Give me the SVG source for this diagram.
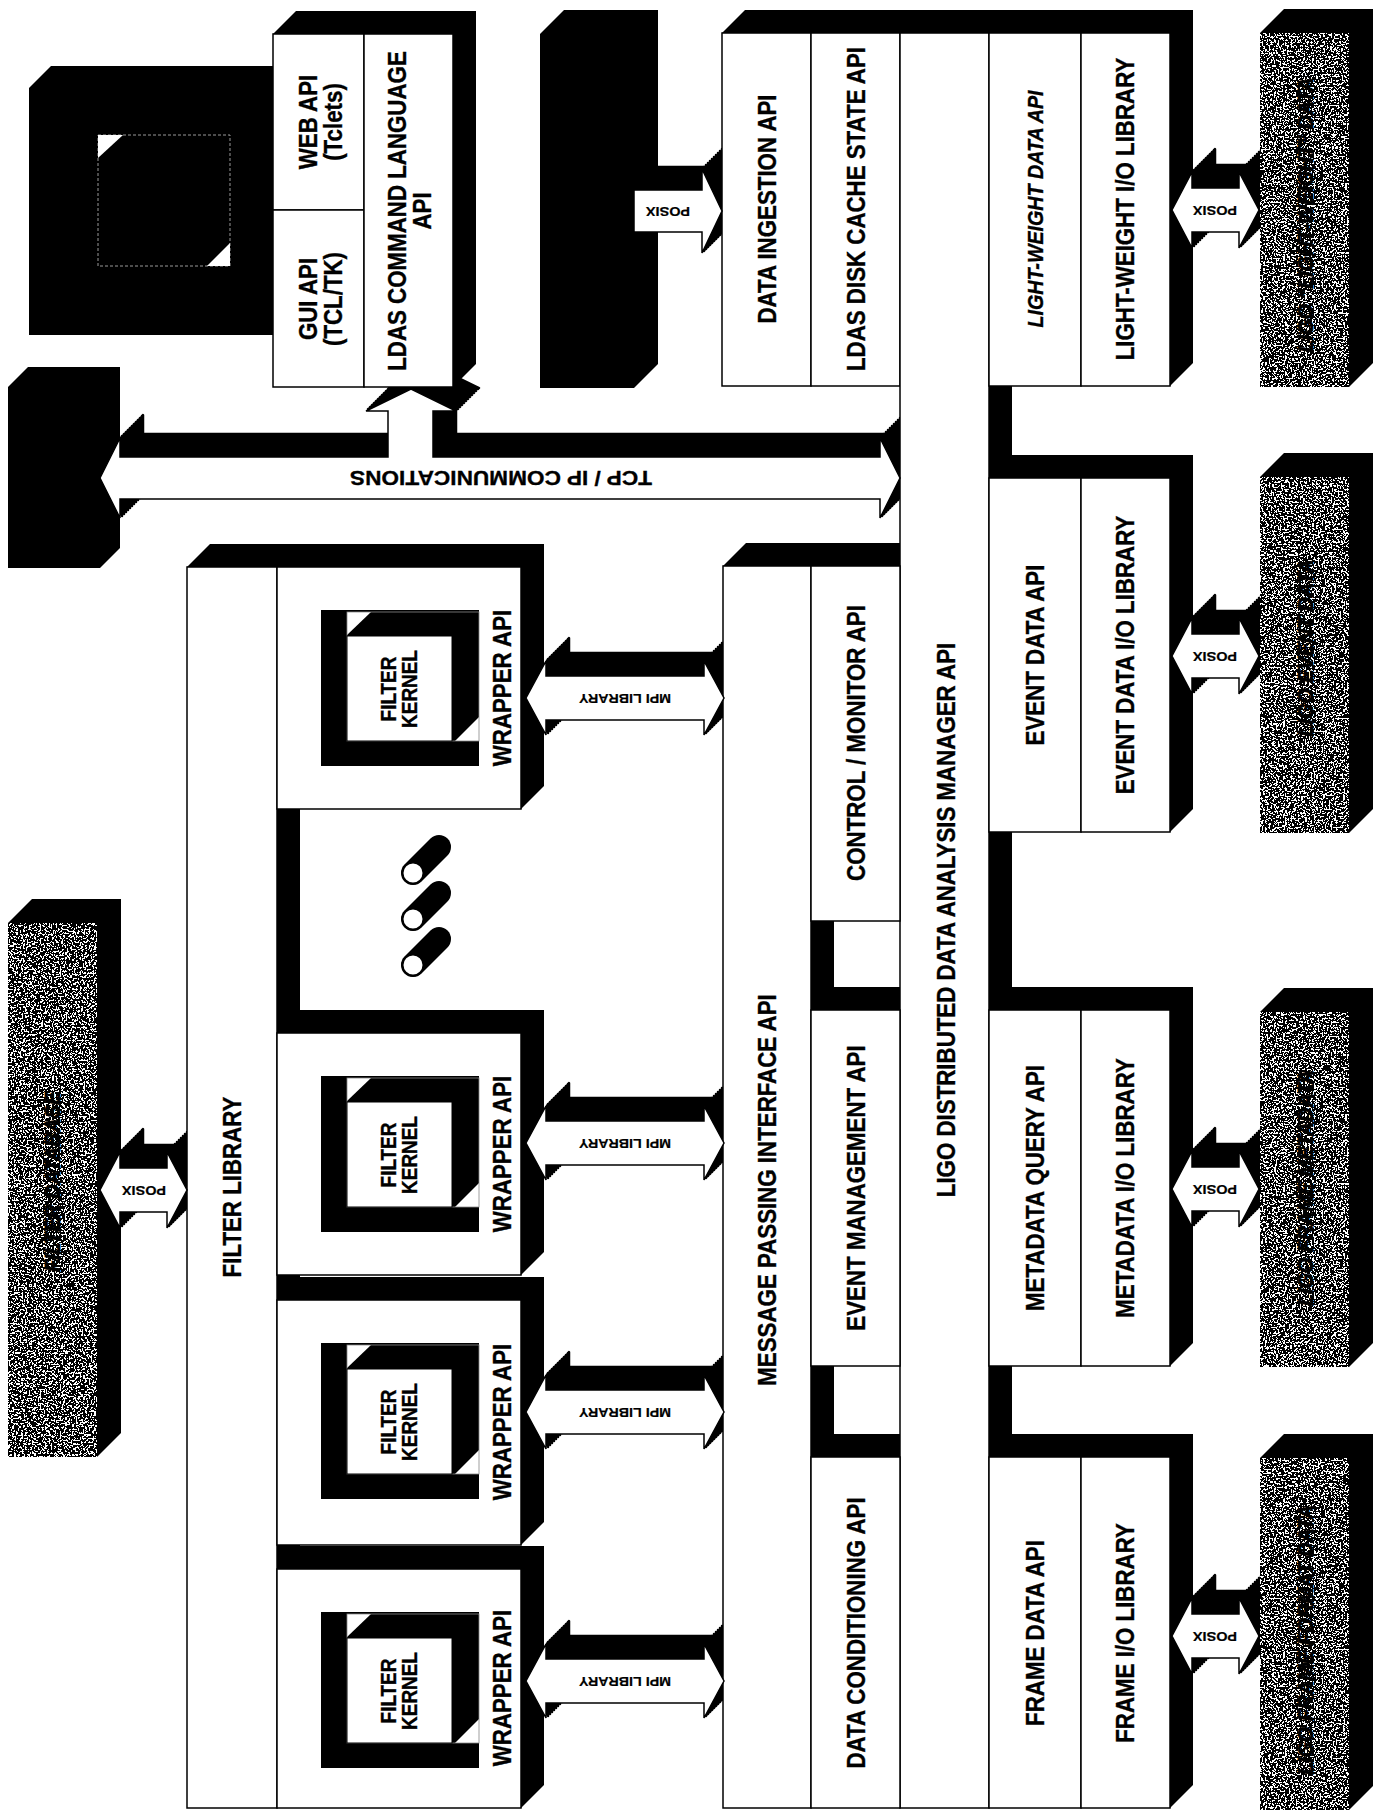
<svg xmlns="http://www.w3.org/2000/svg" xmlns:xlink="http://www.w3.org/1999/xlink" width="1377" height="1813" viewBox="0 0 1377 1813">
<style>
.ext{fill:#000}
.face{fill:#fff;stroke:#000;stroke-width:1.5}
.gray{fill:#fff;filter:url(#grain)}
.arw{fill:#fff;stroke:#000;stroke-width:1.5;stroke-linejoin:miter}
.sh{fill:#000;stroke:#000;stroke-width:2.5;stroke-linejoin:round}
.t{font-family:"Liberation Sans",Arial,Helvetica,sans-serif;font-weight:700;font-size:25.5px;fill:#000;stroke:#000;stroke-width:0.35;text-anchor:middle}
.k{font-size:21.5px}
.i{font-style:italic;font-size:22.5px}
.g{font-style:italic;font-size:22px;stroke:#000;stroke-width:0.8}
.s{font-size:12.5px;stroke-width:0.2}
.cyl{stroke:#000;stroke-width:24;stroke-linecap:round}
.cap{fill:#fff;stroke:#000;stroke-width:2}
</style>
<defs>
<filter id="grain" x="0" y="0" width="1" height="1" color-interpolation-filters="sRGB">
<feTurbulence type="fractalNoise" baseFrequency="0.55" numOctaves="2" seed="5"/>
<feColorMatrix type="matrix" values="0 0 0 0 0  0 0 0 0 0  0 0 0 0 0  1 0 0 0 0"/>
<feComponentTransfer><feFuncA type="discrete" tableValues="0 0 0 0 0 0 0 0 0 1 1 1 1 1 1 1 1 1 1 1"/></feComponentTransfer>
<feComposite in2="SourceGraphic" operator="in" result="sp"/>
<feMerge><feMergeNode in="SourceGraphic"/><feMergeNode in="sp"/></feMerge>
</filter>
<g id="kern">
<rect width="158" height="156" fill="#000"/>
<polygon points="26,2 50,2 26,25" fill="#fff"/>
<polygon points="158,107 158,131 134,131" fill="#fff"/>
<rect x="26" y="2" width="132" height="129" fill="none" stroke="#888" stroke-width="0.8"/>
<rect x="26" y="26" width="105" height="105" fill="#fff" stroke="#000" stroke-width="1"/>
</g>
</defs>

<rect width="1377" height="1813" fill="#fff"/>

<g id="extrusions" class="ext">
<polygon points="29,88 51,66 273,66 273,335 29,335"/>
<polygon points="273,34 296,11 476,11 476,364 453,387 273,387"/>
<polygon points="540,34 564,10 658,10 658,364 634,388 540,388"/>
<polygon points="8,387 28,367 120,367 120,548 100,568 8,568"/>
<polygon points="722,33 745,10 1193,10 1193,363 1170,386 722,386"/>
<polygon points="900,33 923,10 1012,10 1012,1785 989,1808 900,1808"/>
<polygon points="989,478 1012,455 1193,455 1193,809 1170,832 989,832"/>
<polygon points="989,1010 1012,987 1193,987 1193,1343 1170,1366 989,1366"/>
<polygon points="989,1457 1012,1434 1193,1434 1193,1785 1170,1808 989,1808"/>
<polygon points="723,566 746,543 834,543 834,1785 811,1808 723,1808"/>
<polygon points="811,566 834,543 923,543 923,898 900,921 811,921"/>
<polygon points="811,1010 834,987 923,987 923,1343 900,1366 811,1366"/>
<polygon points="811,1457 834,1434 923,1434 923,1785 900,1808 811,1808"/>
<polygon points="187,567 210,544 300,544 300,1785 277,1808 187,1808"/>
<polygon points="277,567 300,544 544,544 544,786 521,809 277,809"/>
<polygon points="277,1033 300,1010 544,1010 544,1252 521,1275 277,1275"/>
<polygon points="277,1300 300,1277 544,1277 544,1522 521,1545 277,1545"/>
<polygon points="277,1569 300,1546 544,1546 544,1785 521,1808 277,1808"/>
<polygon points="8,923 32,899 121,899 121,1433 97,1457 8,1457"/>
<polygon points="1260,33 1284,9 1373,9 1373,363 1349,387 1260,387"/>
<polygon points="1260,477 1284,453 1373,453 1373,809 1349,833 1260,833"/>
<polygon points="1260,1012 1284,988 1373,988 1373,1343 1349,1367 1260,1367"/>
<polygon points="1260,1458 1284,1434 1373,1434 1373,1786 1349,1810 1260,1810"/>
</g>

<g id="arrow-shadows" class="sh">
<use href="#arrows" transform="translate(2,-2)"/>
<use href="#arrows" transform="translate(4,-4)"/>
<use href="#arrows" transform="translate(6,-6)"/>
<use href="#arrows" transform="translate(8,-8)"/>
<use href="#arrows" transform="translate(10,-10)"/>
<use href="#arrows" transform="translate(12,-12)"/>
<use href="#arrows" transform="translate(14,-14)"/>
<use href="#arrows" transform="translate(16,-16)"/>
<use href="#arrows" transform="translate(18,-18)"/>
<use href="#arrows" transform="translate(20,-20)"/>
<use href="#arrows" transform="translate(22,-22)"/>
<use href="#arrows" transform="translate(23,-23)"/>
</g>

<g id="node-workstation">
<rect x="98" y="135" width="132" height="131" fill="#000" stroke="#999" stroke-width="1" stroke-dasharray="3 2"/>
<polygon points="98,135 123,135 98,158" fill="#fff"/>
<polygon points="230,243 230,266 207,266" fill="#fff"/>
</g>

<g id="node-web-api">
<rect class="face" x="273" y="34" width="91" height="176"/>
<text class="t" transform="translate(320.5,122) rotate(-90) scale(0.875,1)"><tspan x="0" y="-3.5">WEB API</tspan><tspan x="0" y="21.5">(Tclets)</tspan></text>
</g>
<g id="node-gui-api">
<rect class="face" x="273" y="210" width="91" height="177"/>
<text class="t" transform="translate(320.5,299) rotate(-90) scale(0.875,1)"><tspan x="0" y="-3.5">GUI API</tspan><tspan x="0" y="21.5">(TCL/TK)</tspan></text>
</g>
<g id="node-ldas-cmd">
<rect class="face" x="364" y="34" width="89" height="353"/>
<text class="t" transform="translate(409.5,211) rotate(-90) scale(0.875,1)"><tspan x="0" y="-3.5">LDAS COMMAND LANGUAGE</tspan><tspan x="0" y="21.5">API</tspan></text>
</g>

<g id="node-data-ingestion">
<rect class="face" x="722" y="33" width="89" height="353"/>
<text class="t" transform="translate(766.5,209) rotate(-90) scale(0.875,1)" y="9">DATA INGESTION API</text>
</g>
<g id="node-disk-cache">
<rect class="face" x="811" y="33" width="89" height="353"/>
<text class="t" transform="translate(855.5,209) rotate(-90) scale(0.875,1)" y="9">LDAS DISK CACHE STATE API</text>
</g>
<g id="node-lddam">
<rect class="face" x="900" y="33" width="89" height="1775"/>
<text class="t" transform="translate(946,920) rotate(-90) scale(0.875,1)" y="9">LIGO DISTRIBUTED DATA ANALYSIS MANAGER API</text>
</g>
<g id="node-lw-data-api">
<rect class="face" x="989" y="33" width="92" height="353"/>
<text class="t i" transform="translate(1035,209) rotate(-90) scale(0.875,1)" y="8">LIGHT-WEIGHT DATA API</text>
</g>
<g id="node-lw-io">
<rect class="face" x="1081" y="33" width="89" height="353"/>
<text class="t" transform="translate(1125,209) rotate(-90) scale(0.875,1)" y="9">LIGHT-WEIGHT I/O LIBRARY</text>
</g>
<g id="node-event-data-api">
<rect class="face" x="989" y="478" width="92" height="354"/>
<text class="t" transform="translate(1035,655) rotate(-90) scale(0.875,1)" y="9">EVENT DATA API</text>
</g>
<g id="node-event-io">
<rect class="face" x="1081" y="478" width="89" height="354"/>
<text class="t" transform="translate(1125,655) rotate(-90) scale(0.875,1)" y="9">EVENT DATA I/O LIBRARY</text>
</g>
<g id="node-metadata-api">
<rect class="face" x="989" y="1010" width="92" height="356"/>
<text class="t" transform="translate(1035,1188) rotate(-90) scale(0.875,1)" y="9">METADATA QUERY API</text>
</g>
<g id="node-metadata-io">
<rect class="face" x="1081" y="1010" width="89" height="356"/>
<text class="t" transform="translate(1125,1188) rotate(-90) scale(0.875,1)" y="9">METADATA I/O LIBRARY</text>
</g>
<g id="node-frame-api">
<rect class="face" x="989" y="1457" width="92" height="351"/>
<text class="t" transform="translate(1035,1633) rotate(-90) scale(0.875,1)" y="9">FRAME DATA API</text>
</g>
<g id="node-frame-io">
<rect class="face" x="1081" y="1457" width="89" height="351"/>
<text class="t" transform="translate(1125,1633) rotate(-90) scale(0.875,1)" y="9">FRAME I/O LIBRARY</text>
</g>

<g id="node-mpi">
<rect class="face" x="723" y="566" width="88" height="1242"/>
<text class="t" transform="translate(767,1190) rotate(-90) scale(0.875,1)" y="9">MESSAGE PASSING INTERFACE API</text>
</g>
<g id="node-control">
<rect class="face" x="811" y="566" width="89" height="355"/>
<text class="t" transform="translate(855.5,743) rotate(-90) scale(0.875,1)" y="9">CONTROL / MONITOR API</text>
</g>
<g id="node-event-mgmt">
<rect class="face" x="811" y="1010" width="89" height="356"/>
<text class="t" transform="translate(855.5,1188) rotate(-90) scale(0.875,1)" y="9">EVENT MANAGEMENT API</text>
</g>
<g id="node-data-cond">
<rect class="face" x="811" y="1457" width="89" height="351"/>
<text class="t" transform="translate(855.5,1633) rotate(-90) scale(0.875,1)" y="9">DATA CONDITIONING API</text>
</g>

<g id="node-filter-library">
<rect class="face" x="187" y="567" width="90" height="1241"/>
<text class="t" transform="translate(232,1187) rotate(-90) scale(0.875,1)" y="9">FILTER LIBRARY</text>
</g>
<g id="node-wrapper-1">
<rect class="face" x="277" y="567" width="244" height="242"/>
<use href="#kern" x="321" y="610"/>
<text class="t k" transform="translate(399,689) rotate(-90) scale(0.88,1)"><tspan x="0" y="-2.8">FILTER</tspan><tspan x="0" y="18.2">KERNEL</tspan></text>
<text class="t" transform="translate(502,688) rotate(-90) scale(0.875,1)" y="9">WRAPPER API</text>
</g>
<g id="node-wrapper-2">
<rect class="face" x="277" y="1033" width="244" height="242"/>
<use href="#kern" x="321" y="1076"/>
<text class="t k" transform="translate(399,1155) rotate(-90) scale(0.88,1)"><tspan x="0" y="-2.8">FILTER</tspan><tspan x="0" y="18.2">KERNEL</tspan></text>
<text class="t" transform="translate(502,1154) rotate(-90) scale(0.875,1)" y="9">WRAPPER API</text>
</g>
<g id="node-wrapper-3">
<rect class="face" x="277" y="1300" width="244" height="245"/>
<use href="#kern" x="321" y="1343"/>
<text class="t k" transform="translate(399,1422) rotate(-90) scale(0.88,1)"><tspan x="0" y="-2.8">FILTER</tspan><tspan x="0" y="18.2">KERNEL</tspan></text>
<text class="t" transform="translate(502,1422) rotate(-90) scale(0.875,1)" y="9">WRAPPER API</text>
</g>
<g id="node-wrapper-4">
<rect class="face" x="277" y="1569" width="244" height="239"/>
<use href="#kern" x="321" y="1612"/>
<text class="t k" transform="translate(399,1691) rotate(-90) scale(0.88,1)"><tspan x="0" y="-2.8">FILTER</tspan><tspan x="0" y="18.2">KERNEL</tspan></text>
<text class="t" transform="translate(502,1688) rotate(-90) scale(0.875,1)" y="9">WRAPPER API</text>
</g>
<g id="node-ellipsis">
<line class="cyl" x1="413" y1="873" x2="439" y2="847"/>
<circle class="cap" cx="413" cy="873" r="10.5"/>
<line class="cyl" x1="413" y1="919" x2="439" y2="893"/>
<circle class="cap" cx="413" cy="919" r="10.5"/>
<line class="cyl" x1="413" y1="965" x2="439" y2="939"/>
<circle class="cap" cx="413" cy="965" r="10.5"/>
</g>

<g id="node-filter-db">
<rect class="gray" x="8" y="923" width="89" height="534"/>
<text class="t g" transform="translate(52,1182) rotate(-90) scale(0.9,1)" y="8">FILTER DATABASE</text>
</g>
<g id="node-lw-data">
<rect class="gray" x="1260" y="33" width="89" height="354"/>
<text class="t g" transform="translate(1305,215) rotate(-90) scale(0.9,1)" y="8">LIGO “LIGHT-WEIGHT” DATA</text>
</g>
<g id="node-event-data">
<rect class="gray" x="1260" y="477" width="89" height="356"/>
<text class="t g" transform="translate(1305,648) rotate(-90) scale(0.9,1)" y="8">LIGO EVENT DATA</text>
</g>
<g id="node-frame-metadata">
<rect class="gray" x="1260" y="1012" width="89" height="355"/>
<text class="t g" transform="translate(1305,1188) rotate(-90) scale(0.9,1)" y="8">LIGO FRAME METADATA</text>
</g>
<g id="node-frame-data">
<rect class="gray" x="1260" y="1458" width="89" height="352"/>
<text class="t g" transform="translate(1305,1640) rotate(-90) scale(0.9,1)" y="8">LIGO FRAME FORMAT DATA</text>
</g>

<g id="connectors" class="arw">
<g id="arrows">
<polygon points="100,478 120,438 120,457 388,457 388,411 366,411 411,389 456,411 433,411 433,457 880,457 880,438 900,478 880,518 880,499 120,499 120,518"/>
<polygon points="634,190 702,190 702,169 722,211 702,253 702,232 634,232"/>
<polygon points="100,1190 120,1152 120,1168 167,1168 167,1152 187,1190 167,1228 167,1212 120,1212 120,1228"/>
<polygon points="526,698 546,661 546,676 704,676 704,661 724,698 704,735 704,720 546,720 546,735"/>
<polygon points="526,1143 546,1106 546,1121 704,1121 704,1106 724,1143 704,1180 704,1165 546,1165 546,1180"/>
<polygon points="526,1412 546,1375 546,1390 704,1390 704,1375 724,1412 704,1449 704,1434 546,1434 546,1449"/>
<polygon points="526,1681 546,1644 546,1659 704,1659 704,1644 724,1681 704,1718 704,1703 546,1703 546,1718"/>
<polygon points="1172,210 1192,172 1192,188 1239,188 1239,172 1259,210 1239,248 1239,232 1192,232 1192,248"/>
<polygon points="1172,656 1192,618 1192,634 1239,634 1239,618 1259,656 1239,694 1239,678 1192,678 1192,694"/>
<polygon points="1172,1189 1192,1151 1192,1167 1239,1167 1239,1151 1259,1189 1239,1227 1239,1211 1192,1211 1192,1227"/>
<polygon points="1172,1636 1192,1598 1192,1614 1239,1614 1239,1598 1259,1636 1239,1674 1239,1658 1192,1658 1192,1674"/>
</g>
</g>

<g id="connector-labels">
<text class="t" style="font-size:21px;stroke-width:0.3" transform="translate(501,478) rotate(180)" y="7.5" textLength="302" lengthAdjust="spacingAndGlyphs">TCP / IP COMMUNICATIONS</text>
<text class="t s" transform="translate(668,211) rotate(180)" y="4.5" textLength="44" lengthAdjust="spacingAndGlyphs">POSIX</text>
<text class="t s" transform="translate(144,1190) rotate(180)" y="4.5" textLength="44" lengthAdjust="spacingAndGlyphs">POSIX</text>
<text class="t s" transform="translate(1215,210) rotate(180)" y="4.5" textLength="44" lengthAdjust="spacingAndGlyphs">POSIX</text>
<text class="t s" transform="translate(1215,656) rotate(180)" y="4.5" textLength="44" lengthAdjust="spacingAndGlyphs">POSIX</text>
<text class="t s" transform="translate(1215,1189) rotate(180)" y="4.5" textLength="44" lengthAdjust="spacingAndGlyphs">POSIX</text>
<text class="t s" transform="translate(1215,1636) rotate(180)" y="4.5" textLength="44" lengthAdjust="spacingAndGlyphs">POSIX</text>
<text class="t s" transform="translate(625,698) rotate(180)" y="4.5" textLength="92" lengthAdjust="spacingAndGlyphs">MPI LIBRARY</text>
<text class="t s" transform="translate(625,1143) rotate(180)" y="4.5" textLength="92" lengthAdjust="spacingAndGlyphs">MPI LIBRARY</text>
<text class="t s" transform="translate(625,1412) rotate(180)" y="4.5" textLength="92" lengthAdjust="spacingAndGlyphs">MPI LIBRARY</text>
<text class="t s" transform="translate(625,1681) rotate(180)" y="4.5" textLength="92" lengthAdjust="spacingAndGlyphs">MPI LIBRARY</text>
</g>
</svg>
